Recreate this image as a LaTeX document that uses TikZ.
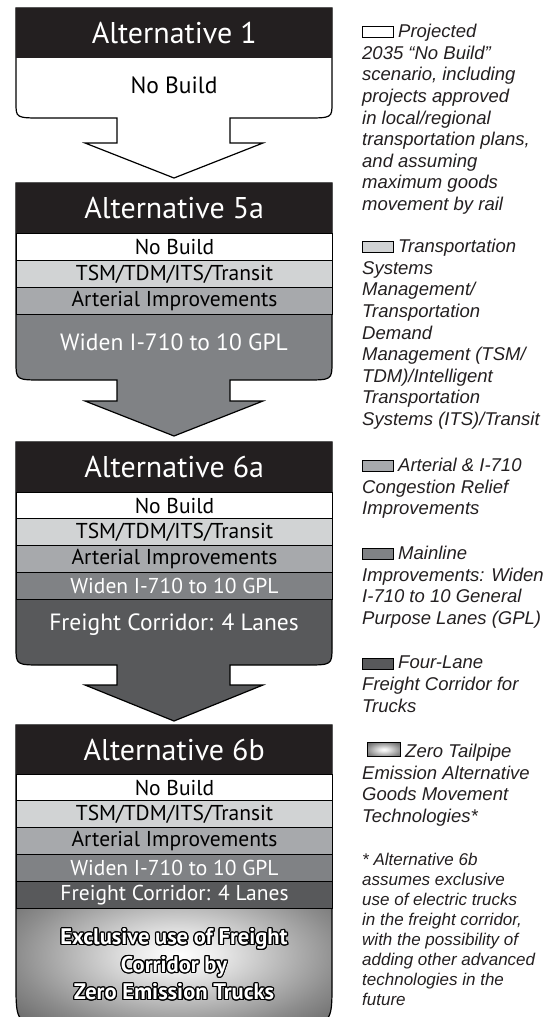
\documentclass[tikz,border=0pt]{standalone}
\usepackage{fontspec}
\setmainfont{Liberation Sans}
\newfontfamily\altfont{PT Sans}
\usepackage{contour}
\contourlength{1.2pt}
\definecolor{HeadBlack}{HTML}{231F20}
\definecolor{TsmGray}{HTML}{D1D3D4}
\definecolor{ArtGray}{HTML}{A7A9AC}
\definecolor{WidenGray}{HTML}{808285}
\definecolor{FreightGray}{HTML}{58595B}
\pgfdeclareradialshading{ZeroEmission}{\pgfpoint{0bp}{0bp}}{color(0bp)=(white); color(6bp)=(white!92!black); color(25bp)=(black!45); color(40bp)=(black!70); color(55bp)=(black!88); color(75bp)=(black)}
\tikzset{
	outline/.style={draw=black, line width=1.2pt},
	althead/.style={fill=HeadBlack, text=white, minimum width=316pt, minimum height=50pt, inner sep=0pt, anchor=north west, font=\altfont\fontsize{30}{30}\selectfont},
	altrow/.style={draw=black, line width=1pt, minimum width=316pt, minimum height=27pt, inner sep=0pt, anchor=north west, font=\altfont\fontsize{21.5}{21.5}\selectfont},
	altbody/.style={font=\altfont\fontsize{23.5}{23.5}\selectfont},
	swatch/.style={draw=black, line width=0.8pt, minimum width=31pt, minimum height=11pt, inner sep=0pt, anchor=south west},
	legtext/.style={anchor=north west, inner sep=0pt, align=left, text=HeadBlack, font=\itshape\fontsize{18.5}{21.6}\selectfont}
}
\begin{document}
\begin{tikzpicture}[x=1pt,y=-1pt]
	\path[use as bounding box] (0,0) rectangle (550,1017);
	\clip (0,0) rectangle (550,1017);% page edge cuts the last box
	
	% boxes with arrow underneath
	\foreach \yt/\yc/\yb/\ys/\yp/\col in {8/103/118/143/178/white, 183/362/380/401/436/WidenGray, 442/647/665/685/721/FreightGray}
	\draw[outline, fill=\col] (16,\yt) -- (332,\yt) -- (332,\yc) .. controls (332,\yb) .. (305,\yb) -- (230,\yb) -- (230,\ys) -- (263,\ys) -- (174,\yp) -- (85,\ys) -- (117,\ys) -- (117,\yb) -- (43,\yb) .. controls (16,\yb) .. (16,\yc) -- cycle;
	
	% last box, shaded bottom
	\begin{scope}
	\clip (16,909) -- (332,909) -- (332,983) .. controls (332,1024) .. (292,1024) -- (56,1024) .. controls (16,1024) .. (16,983) -- cycle;
	\shade[shading=ZeroEmission] (16,880) rectangle (340,1030);
	\end{scope}
	\draw[outline] (16,725) -- (332,725) -- (332,983) .. controls (332,1024) .. (292,1024) -- (56,1024) .. controls (16,1024) .. (16,983) -- cycle;
	
	% Alternative 1
	\node[althead] (AltOneHead) at (16,8) {Alternative 1};
	\node[altbody] (AltOneBody) at (174,85) {No Build};
	
	% Alternative 5a
	\node[althead] (AltFiveHead) at (16,183) {Alternative 5a};
	\node[altrow, fill=white] (AltFiveNB) at (16,233) {No Build};
	\node[altrow, fill=TsmGray] (AltFiveTSM) at (16,260) {TSM/TDM/ITS/Transit};
	\node[altrow, fill=ArtGray] (AltFiveArt) at (16,287) {Arterial Improvements};
	\node[altbody, text=white] (AltFiveBody) at (174,342) {Widen I-710 to 10 GPL};
	
	% Alternative 6a
	\node[althead] (AltSixAHead) at (16,442) {Alternative 6a};
	\node[altrow, fill=white] (AltSixANB) at (16,492) {No Build};
	\node[altrow, fill=TsmGray] (AltSixATSM) at (16,518) {TSM/TDM/ITS/Transit};
	\node[altrow, fill=ArtGray] (AltSixAArt) at (16,545) {Arterial Improvements};
	\node[altrow, fill=WidenGray, text=white] (AltSixAWiden) at (16,572) {Widen I-710 to 10 GPL};
	\node[altbody, text=white] (AltSixABody) at (174,625) {Freight Corridor: 4 Lanes};
	
	% Alternative 6b
	\node[althead] (AltSixBHead) at (16,725) {Alternative 6b};
	\node[altrow, fill=white] (AltSixBNB) at (16,774) {No Build};
	\node[altrow, fill=TsmGray] (AltSixBTSM) at (16,800) {TSM/TDM/ITS/Transit};
	\node[altrow, fill=ArtGray] (AltSixBArt) at (16,827) {Arterial Improvements};
	\node[altrow, fill=WidenGray, text=white] (AltSixBWiden) at (16,854) {Widen I-710 to 10 GPL};
	\node[altrow, fill=FreightGray, text=white] (AltSixBFreight) at (16,881) {Freight Corridor: 4 Lanes};
	\node[text=white, align=center, font=\altfont\bfseries\fontsize{22.5}{27.5}\selectfont] (AltSixBBody) at (174,965) {\contour{black}{Exclusive use of Freight}\\\contour{black}{Corridor by}\\\contour{black}{Zero Emission Trucks}};
	
	% legend
	\node[swatch, fill=white] (SwNoBuild) at (362,38) {};
	\node[legtext] (LegNoBuild) at (362,24) {\hspace*{36pt}Projected\\2035 “No Build”\\scenario, including\\projects approved\\in local/regional\\transportation plans,\\and assuming\\maximum goods\\movement by rail};
	\node[swatch, fill=TsmGray] (SwTSM) at (362,253) {};
	\node[legtext] (LegTSM) at (362,239) {\hspace*{36pt}Transportation\\Systems\\Management/\\Transportation\\Demand\\Management (TSM/\\TDM)/Intelligent\\Transportation\\Systems (ITS)/Transit};
	\node[swatch, fill=ArtGray] (SwArt) at (362,472) {};
	\node[legtext] (LegArt) at (362,458) {\hspace*{36pt}Arterial \& I-710\\Congestion Relief\\Improvements};
	\node[swatch, fill=WidenGray] (SwWiden) at (362,560) {};
	\node[legtext] (LegWiden) at (362,546) {\hspace*{36pt}Mainline\\Improvements: Widen\\I-710 to 10 General\\Purpose Lanes (GPL)};
	\node[swatch, fill=FreightGray] (SwFreight) at (362,670) {};
	\node[legtext] (LegFreight) at (362,656) {\hspace*{36pt}Four-Lane\\Freight Corridor for\\Trucks};
	\node[swatch, shade, shading=ZeroEmission, minimum width=33pt, minimum height=14pt] (SwZero) at (367,757) {};
	\node[legtext] (LegZero) at (362,744) {\hspace*{43pt}Zero Tailpipe\\Emission Alternative\\Goods Movement\\Technologies*};
	\node[legtext, font=\itshape\fontsize{17}{20}\selectfont] (LegNote) at (362,853) {* Alternative 6b\\assumes exclusive\\use of electric trucks\\in the freight corridor,\\with the possibility of\\adding other advanced\\technologies in the\\future};
\end{tikzpicture}
\end{document}
